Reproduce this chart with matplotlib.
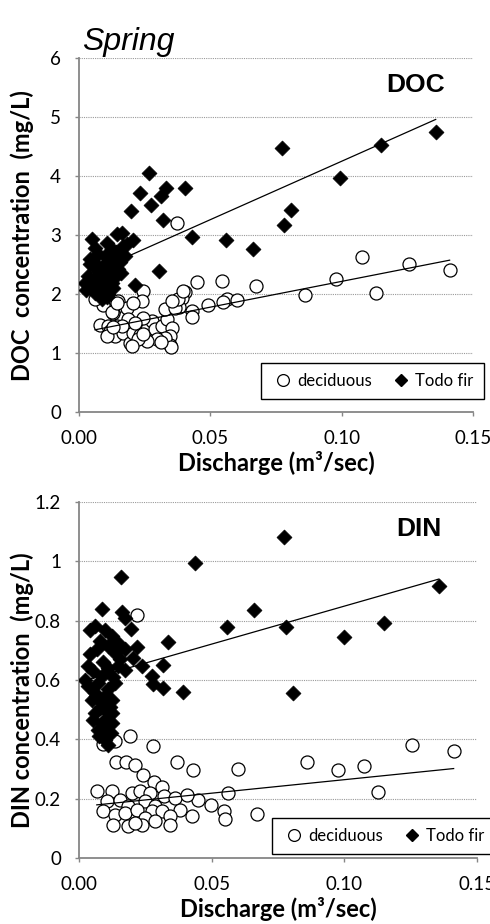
import matplotlib.pyplot as plt
from matplotlib.lines import Line2D
import numpy as np

# ---- DOC (top panel) ----
doc_dec_x = [0.0373, 0.1078, 0.1255, 0.1411, 0.0980, 0.1129, 0.0860, 0.0672, 0.0544, 0.0448,
             0.0403, 0.0562, 0.0549, 0.0600, 0.0492, 0.0391, 0.0429, 0.0431, 0.0380,
             0.0245, 0.0239, 0.0150, 0.0137, 0.0181, 0.0207, 0.0093, 0.0061, 0.0131, 0.0188,
             0.0080, 0.0112, 0.0143, 0.0118, 0.0137, 0.0169, 0.0194, 0.0207, 0.0232, 0.0258,
             0.0277, 0.0289, 0.0315, 0.0334, 0.0353, 0.0346, 0.0346, 0.0327, 0.0296, 0.0258,
             0.0226, 0.0327, 0.0365, 0.0378, 0.0397, 0.0353, 0.0245, 0.0213, 0.0162, 0.0105,
             0.0200, 0.0352, 0.0314, 0.0245, 0.0124, 0.0143, 0.0131]
doc_dec_y = [3.20, 2.62, 2.51, 2.40, 2.25, 2.02, 1.98, 2.13, 2.22, 2.20,
             2.04, 1.92, 1.87, 1.89, 1.81, 1.94, 1.72, 1.61, 1.78,
             2.05, 1.88, 1.88, 1.77, 1.77, 1.85, 1.82, 1.92, 1.68, 1.57,
             1.48, 1.45, 1.45, 1.37, 1.28, 1.34, 1.17, 1.34, 1.31, 1.40,
             1.54, 1.40, 1.45, 1.57, 1.43, 1.28, 1.14, 1.26, 1.23, 1.20,
             1.23, 1.74, 1.77, 1.91, 2.05, 1.88, 1.60, 1.51, 1.45, 1.28,
             1.12, 1.11, 1.19, 1.33, 1.70, 1.84, 1.44]

doc_fir_x = [0.0773, 0.1149, 0.1358, 0.0994, 0.0266, 0.0232, 0.0333, 0.0403, 0.0314, 0.0198,
             0.0276, 0.0318, 0.0432, 0.0558, 0.0663, 0.0781, 0.0806, 0.0304, 0.0213,
             0.0048, 0.0105, 0.0143, 0.0162, 0.0207, 0.0181, 0.0061, 0.0042, 0.0061, 0.0099,
             0.0124, 0.0150, 0.0175, 0.0137, 0.0112, 0.0080, 0.0035, 0.0023, 0.0048, 0.0073,
             0.0099, 0.0124, 0.0150, 0.0061, 0.0086, 0.0105, 0.0086, 0.0124, 0.0137, 0.0112,
             0.0073, 0.0169, 0.0025, 0.0042, 0.0080, 0.0055, 0.0093, 0.0105,
             0.0090, 0.0118, 0.0155, 0.0068, 0.0130, 0.0095, 0.0160, 0.0112, 0.0140]
doc_fir_y = [4.48, 4.53, 4.74, 3.96, 4.05, 3.72, 3.80, 3.80, 3.66, 3.41,
             3.51, 3.25, 2.97, 2.92, 2.76, 3.17, 3.43, 2.39, 2.16,
             2.93, 2.87, 3.01, 3.04, 2.92, 2.84, 2.78, 2.59, 2.53, 2.64,
             2.76, 2.70, 2.64, 2.53, 2.47, 2.39, 2.30, 2.19, 2.13, 2.25,
             2.30, 2.36, 2.42, 2.02, 1.91, 2.02, 2.13, 2.19, 2.28, 2.56,
             2.67, 2.81, 2.06, 2.51, 2.06, 2.23, 2.12, 1.95,
             2.45, 2.60, 2.55, 2.40, 2.10, 2.20, 2.35, 2.00, 2.72]

# ---- DIN (bottom panel) ----
din_dec_x = [0.0217, 0.0092, 0.0136, 0.0192, 0.0280, 0.0140, 0.0176, 0.0211, 0.0240, 0.0284,
             0.0312, 0.0370, 0.0431, 0.0601, 0.0861, 0.0978, 0.1076, 0.1126, 0.1254, 0.1412,
             0.0563, 0.0497, 0.0547, 0.0551, 0.0670, 0.0450,
             0.0067, 0.0123, 0.0199, 0.0230, 0.0268, 0.0319, 0.0362, 0.0406, 0.0104, 0.0155,
             0.0186, 0.0249, 0.0286, 0.0092, 0.0136, 0.0173, 0.0217, 0.0274, 0.0312, 0.0381,
             0.0425, 0.0343, 0.0249, 0.0129, 0.0186, 0.0236, 0.0286, 0.0343, 0.0211]
din_dec_y = [0.820, 0.385, 0.393, 0.412, 0.376, 0.323, 0.322, 0.313, 0.279, 0.256,
             0.241, 0.322, 0.298, 0.299, 0.322, 0.295, 0.311, 0.224, 0.381, 0.359,
             0.219, 0.177, 0.160, 0.132, 0.148, 0.197,
             0.225, 0.225, 0.219, 0.225, 0.219, 0.208, 0.202, 0.213, 0.191, 0.197,
             0.174, 0.191, 0.174, 0.157, 0.146, 0.152, 0.163, 0.157, 0.157, 0.163,
             0.140, 0.140, 0.135, 0.112, 0.107, 0.112, 0.124, 0.112, 0.118]

din_fir_x = [0.0773, 0.0437, 0.0158, 0.0088, 0.0161, 0.0173, 0.0196, 0.0217, 0.0334, 0.0557,
             0.0660, 0.0781, 0.0999, 0.1148, 0.1356, 0.0318, 0.0236, 0.0274, 0.0280, 0.0318,
             0.0393, 0.0806,
             0.0041, 0.0060, 0.0098, 0.0123, 0.0148, 0.0173, 0.0205, 0.0110, 0.0136, 0.0041,
             0.0067, 0.0035, 0.0054, 0.0023, 0.0086, 0.0110, 0.0148, 0.0173, 0.0035, 0.0060,
             0.0110, 0.0136, 0.0048, 0.0086, 0.0123, 0.0060, 0.0098, 0.0123, 0.0054, 0.0086,
             0.0123, 0.0073, 0.0110, 0.0098, 0.0110, 0.0092, 0.0080, 0.0130, 0.0155,
             0.0070, 0.0100, 0.0080, 0.0115, 0.0065, 0.0100, 0.0075, 0.0120]
din_fir_y = [1.083, 0.993, 0.948, 0.839, 0.830, 0.809, 0.771, 0.712, 0.729, 0.780,
             0.836, 0.780, 0.744, 0.793, 0.918, 0.652, 0.646, 0.613, 0.585, 0.573,
             0.560, 0.557,
             0.770, 0.781, 0.770, 0.747, 0.725, 0.703, 0.675, 0.714, 0.691, 0.686,
             0.703, 0.646, 0.629, 0.601, 0.612, 0.641, 0.646, 0.635, 0.579, 0.557,
             0.568, 0.590, 0.534, 0.523, 0.534, 0.489, 0.500, 0.489, 0.466, 0.455,
             0.455, 0.433, 0.427, 0.399, 0.382, 0.660, 0.730, 0.610, 0.670,
             0.590, 0.550, 0.505, 0.510, 0.545, 0.470, 0.410, 0.420]

# linear trend lines (slope, intercept) as shown on the chart
doc_dec_trend = [8.74, 1.34]
doc_fir_trend = [19.8, 2.27]
din_dec_trend = [0.91, 0.173]
din_fir_trend = [2.56, 0.593]

x_ticks = [0.00, 0.05, 0.10, 0.15]
x_ticklabels = ['0.00', '0.05', '0.10', '0.15']
doc_ticks = [0, 1, 2, 3, 4, 5, 6]
din_ticks = [0, 0.2, 0.4, 0.6, 0.8, 1.0, 1.2]
din_ticklabels = ['0', '0.2', '0.4', '0.6', '0.8', '1', '1.2']

LABEL_FONT = 'Lato'
GRAY = '#868686'


def trend(ax, xs, coef):
    xx = np.array([min(xs), max(xs)])
    ax.plot(xx, coef[0] * xx + coef[1], color='black', lw=0.9, zorder=5)


def panel(ax, dec_x, dec_y, fir_x, fir_y, dec_tr, fir_tr, ymax, yticks, ylabels, tag, legpos):
    ax.scatter(dec_x, dec_y, s=88, marker='o', facecolor='white', edgecolor='black',
               linewidth=0.9, zorder=3)
    ax.scatter(fir_x, fir_y, s=58, marker='D', facecolor='black', edgecolor='black',
               linewidth=0.5, zorder=4)
    trend(ax, dec_x, dec_tr)
    trend(ax, fir_x, fir_tr)
    ax.set_xlim(0, 0.15)
    ax.set_ylim(0, ymax)
    ax.set_xticks(x_ticks)
    ax.set_xticklabels(x_ticklabels)
    ax.set_yticks(yticks)
    ax.set_yticklabels(ylabels)
    for s in ['top', 'right']:
        ax.spines[s].set_visible(False)
    for s in ['left', 'bottom']:
        ax.spines[s].set_color(GRAY)
        ax.spines[s].set_linewidth(1.3)
    ax.tick_params(direction='out', length=3, width=1, color=GRAY, labelsize=13.5, pad=10)
    for lab in ax.get_xticklabels() + ax.get_yticklabels():
        lab.set_fontfamily(LABEL_FONT)
    ax.yaxis.grid(True, linestyle=(0, (1, 1)), color='#9a9a9a', linewidth=0.8)
    ax.set_axisbelow(True)
    ax.set_xlabel('Discharge (m\u00b3/sec)', fontsize=17, fontweight='bold',
                  fontfamily=LABEL_FONT, labelpad=3)
    ax.text(0.855, 0.924, tag, transform=ax.transAxes, ha='center', va='center',
            fontsize=19, fontweight='bold', fontfamily='Liberation Sans')
    handles = [Line2D([], [], marker='o', ls='', markerfacecolor='white', markeredgecolor='black',
                      markersize=8.5, markeredgewidth=0.9),
               Line2D([], [], marker='D', ls='', color='black', markersize=6)]
    leg = ax.legend(handles, ['deciduous', 'Todo fir'], ncol=2, loc='center',
                    bbox_to_anchor=legpos, fancybox=False, framealpha=1,
                    edgecolor='black', handlelength=1.5, handletextpad=0.1,
                    columnspacing=1.0, borderpad=0.6, borderaxespad=0,
                    prop={'family': LABEL_FONT, 'size': 12})
    leg.get_frame().set_linewidth(1.0)


fig = plt.figure(figsize=(4.9, 9.24), dpi=100)
ax1 = fig.add_axes([79 / 490, 1 - 412 / 924, 394 / 490, 354 / 924])
ax2 = fig.add_axes([79 / 490, 1 - 858 / 924, 398 / 490, 356 / 924])

panel(ax1, doc_dec_x, doc_dec_y, doc_fir_x, doc_fir_y, doc_dec_trend, doc_fir_trend,
      6, doc_ticks, [str(t) for t in doc_ticks], 'DOC', (0.744, 0.088))
panel(ax2, din_dec_x, din_dec_y, din_fir_x, din_fir_y, din_dec_trend, din_fir_trend,
      1.2, din_ticks, din_ticklabels, 'DIN', (0.764, 0.063))

fig.text(22 / 490, 1 - 236 / 924, 'DOC  concentration  (mg/L)', rotation=90, ha='center',
         va='center', fontsize=17, fontweight='bold', fontfamily=LABEL_FONT)
fig.text(22 / 490, 1 - 690 / 924, 'DIN concentration  (mg/L)', rotation=90, ha='center',
         va='center', fontsize=17, fontweight='bold', fontfamily=LABEL_FONT)
fig.text(82 / 490, 1 - 42 / 924, 'Spring', fontsize=23, fontstyle='italic',
         fontfamily='Liberation Sans', va='center', ha='left')

fig.savefig('out.png', dpi=100)
plt.close(fig)
